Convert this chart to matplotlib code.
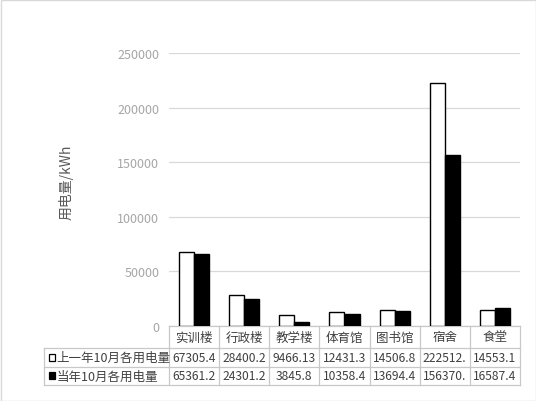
import numpy as np
import matplotlib.pyplot as plt
from matplotlib.patches import Rectangle
from matplotlib.transforms import blended_transform_factory

plt.rcParams['font.family'] = ['Noto Sans CJK SC', 'DejaVu Sans']

# 数据
categories = ['实训楼', '行政楼', '教学楼', '体育馆', '图书馆', '宿舍', '食堂']
series_names = ['上一年10月各用电量', '当年10月各用电量']
last_year = [67305.4, 28400.2, 9466.13, 12431.3, 14506.8, 222512.4, 14553.1]
this_year = [65361.2, 24301.2, 3845.8, 10358.4, 13694.4, 156370.2, 16587.4]
yticks = [0, 50000, 100000, 150000, 200000, 250000]
ylabel = '用电量/kWh'

W, H = 536, 402
fig = plt.figure(figsize=(W / 100, H / 100), dpi=100)
ax = fig.add_axes([169 / W, 1 - 326.7 / H, 351 / W, 272.7 / H])

x = np.arange(len(categories))
bw = 0.3
ax.bar(x - bw / 2, last_year, bw, color='white', edgecolor='black', linewidth=1, zorder=3)
ax.bar(x + bw / 2, this_year, bw, color='black', edgecolor='black', linewidth=1, zorder=3)

ax.set_xlim(-0.5, len(categories) - 0.5)
ax.set_ylim(0, 250000)
ax.set_yticks(yticks)
ax.set_yticklabels([str(v) for v in yticks])
ax.set_xticks([])
ax.tick_params(axis='y', length=0, labelsize=9, labelcolor='#a6a6a6', pad=7)
ax.grid(axis='y', color='#d9d9d9', linewidth=0.9, zorder=0)
for s in ax.spines.values():
    s.set_visible(False)
ax.set_ylabel(ylabel, fontsize=10, color='#595959')
ax.yaxis.set_label_coords(-0.272, 0.53)

# 数据表
tr = blended_transform_factory(ax.transData, fig.transFigure)
line_c = '#c8c8c8'
text_c = '#404040'
rows_px = [327, 349, 368, 386]
ry = [1 - p / H for p in rows_px]
left = -3.0
right = len(categories) - 0.5

def hline(x0, x1, y):
    ax.plot([x0, x1], [y, y], color=line_c, lw=0.9, transform=tr, clip_on=False)

def vline(xv, y0, y1):
    ax.plot([xv, xv], [y0, y1], color=line_c, lw=0.9, transform=tr, clip_on=False)

hline(-0.5, right, ry[0])
for y in ry[1:]:
    hline(left, right, y)
for i in range(len(categories) + 1):
    vline(i - 0.5, ry[0], ry[3])
vline(left, ry[1], ry[3])

for i, c in enumerate(categories):
    ax.text(i, (ry[0] + ry[1]) / 2, c, transform=tr, ha='center', va='center',
            fontsize=9, color=text_c)

def fmt(v):
    return str(v)[:7]

for r, (name, vals, fc) in enumerate(zip(series_names, [last_year, this_year], ['white', 'black'])):
    yc = (ry[r + 1] + ry[r + 2]) / 2
    ax.add_patch(Rectangle((-2.9, yc - 3.2 / H), 0.13, 7 / H, transform=tr,
                           facecolor=fc, edgecolor='black', lw=0.9, clip_on=False))
    ax.text(-2.74, yc, name, transform=tr, ha='left', va='center', fontsize=9, color=text_c)
    for i, v in enumerate(vals):
        ax.text(i, yc, fmt(v), transform=tr, ha='center', va='center', fontsize=8.7, color=text_c)

# 图表区边框
fig.patches.append(Rectangle((0.5 / W, 0.5 / H), 1 - 1 / W, 1 - 1 / H, transform=fig.transFigure,
                             fill=False, edgecolor='#d9d9d9', lw=1))

fig.savefig('out.png', dpi=100)
